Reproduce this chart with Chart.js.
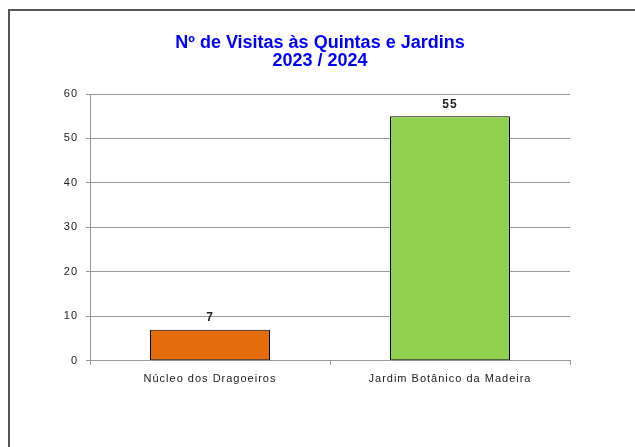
<!DOCTYPE html>
<html lang="pt">
<head>
<meta charset="UTF-8">
<title>Visitas às Quintas e Jardins</title>
<script src="https://cdn.jsdelivr.net/npm/chart.js@4.4.0/dist/chart.umd.min.js"></script>
<style>
  body { margin: 0; background: #fff; overflow: hidden; }
  #wrap { position: relative; width: 635px; height: 447px; }
  #frame { position: absolute; left: 8px; top: 9px; width: 700px; height: 500px; border: 2px solid #555; box-sizing: border-box; }
  #myChart { position: absolute; left: 0; top: 0; }
</style>
</head>
<body>
<div id="wrap">
  <div id="frame"></div>
  <canvas id="myChart" width="635" height="447"></canvas>
</div>
<script>
  const categories = ['Núcleo dos Dragoeiros', 'Jardim Botânico da Madeira']
  const visits = [7, 55]
  const barColors = ['#E46C0A', '#92D050']
  const yTicks = [0, 10, 20, 30, 40, 50, 60]
  const titleLines = ['Nº de Visitas às Quintas e Jardins', '2023 / 2024']

  const fontFamily = '"Liberation Sans", Arial, sans-serif'

  // texto dos eixos um pouco mais espaçado, como no original
  // (as labels dos eixos ficam com z=1, ou seja desenhadas depois das barras)
  const spacing = {
    id: 'spacing',
    afterLayout(chart) { chart.scales.y.left = 0 }, // para as labels do eixo y não serem cortadas
    afterDatasetsDraw(chart) { chart.ctx.letterSpacing = '1px' },
    afterDraw(chart) { chart.ctx.letterSpacing = '0px' }
  }

  // escreve o valor por cima de cada barra
  const valueLabels = {
    id: 'valueLabels',
    afterDatasetsDraw(chart) {
      const ctx = chart.ctx
      ctx.save()
      ctx.font = 'bold 12px ' + fontFamily
      ctx.fillStyle = '#222'
      ctx.textAlign = 'center'
      ctx.textBaseline = 'middle'
      chart.getDatasetMeta(0).data.forEach((bar, i) => {
        ctx.fillText(visits[i], bar.x, bar.y - 12)
      })
      ctx.restore()
    }
  }

  let ctx = document.getElementById('myChart')
  let chart = new Chart(ctx, {
    type: 'bar',
    data: {
      labels: categories,
      datasets: [{
        data: visits,
        backgroundColor: barColors,
        borderColor: '#000',
        borderWidth: 1,
        borderSkipped: false,
        barPercentage: 0.5,
        categoryPercentage: 1
      }]
    },
    options: {
      responsive: false,
      animation: false,
      layout: { padding: { left: 70, right: 65, top: 0, bottom: 53 } },
      plugins: {
        legend: { display: false },
        tooltip: { enabled: false },
        title: {
          display: true,
          text: titleLines,
          color: '#0000FF',
          font: { family: fontFamily, size: 18, weight: 'bold', lineHeight: 1.0 },
          padding: { top: 34, bottom: 24 }
        }
      },
      scales: {
        x: {
          offset: true,
          grid: { offset: true, drawOnChartArea: false, drawTicks: true, tickLength: 4, color: '#999' },
          border: { color: '#999' },
          ticks: { z: 1, color: '#222', padding: 8, font: { family: fontFamily, size: 11 } }
        },
        y: {
          min: 0,
          max: 60,
          afterFit(scale) { scale.width = 20 },
          afterBuildTicks(scale) { scale.ticks = yTicks.map(v => ({ value: v })) },
          grid: { color: '#999', tickLength: 4 },
          border: { color: '#999' },
          ticks: { z: 1, color: '#222', padding: 8, font: { family: fontFamily, size: 11 } }
        }
      }
    },
    plugins: [spacing, valueLabels]
  })
</script>
</body>
</html>
